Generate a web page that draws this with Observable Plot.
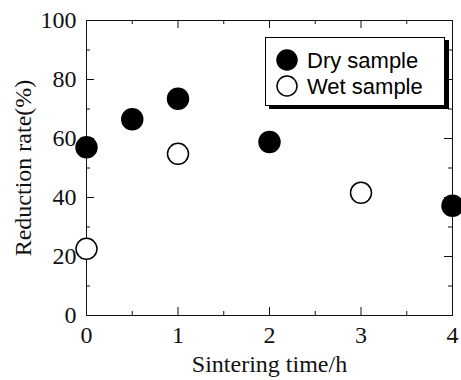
<!DOCTYPE html>
<html><head><meta charset="utf-8">
<script src="https://cdn.jsdelivr.net/npm/d3@7"></script>
<script src="https://cdn.jsdelivr.net/npm/@observablehq/plot@0.6"></script>
<style>
body{margin:0;background:#fff;}
#wrap{position:relative;width:461px;height:380px;}
#legend{position:absolute;left:265px;top:37px;width:180px;height:69px;box-sizing:border-box;border:1px solid #000;background:#fff;box-shadow:4px 3px 0 #000;}
#legend svg{position:absolute;left:-1px;top:-1px;}
</style></head><body><div id="wrap"></div>
<script>
const seriesNames = ["Dry sample", "Wet sample"];
const dryTime = [0, 0.5, 1, 2, 4];
const dryRate = [57.0, 66.5, 73.5, 58.8, 37.2];
const wetTime = [0, 1, 3];
const wetRate = [22.6, 54.8, 41.6];
const xMajor = [0, 1, 2, 3, 4];
const xMinor = [0.5, 1.5, 2.5, 3.5];
const yMajor = [0, 20, 40, 60, 80, 100];
const yMinor = [10, 30, 50, 70, 90];
const xTitle = "Sintering time/h";
const yTitle = "Reduction rate(%)";

const dry = dryTime.map((t, i) => ({t, v: dryRate[i]}));
const wet = wetTime.map((t, i) => ({t, v: wetRate[i]}));

const W = 461, H = 380, mL = 86, mR = 9, mT = 20, mB = 65;
const pw = W - mL - mR, ph = H - mT - mB;
const major = 8, minor = 4;
const serif = "'Liberation Serif', 'Times New Roman', serif";

const chart = Plot.plot({
  width: W, height: H,
  marginLeft: mL, marginRight: mR, marginTop: mT, marginBottom: mB,
  style: {fontFamily: serif, fontSize: "24px", color: "#111", background: "white", overflow: "visible"},
  x: {domain: [0, 4]},
  y: {domain: [0, 100]},
  marks: [
    Plot.tickY(yMajor, {y: d => d, insetRight: pw - major, stroke: "#111"}),
    Plot.tickY(yMajor, {y: d => d, insetLeft: pw - major, stroke: "#111"}),
    Plot.tickY(yMinor, {y: d => d, insetRight: pw - minor, stroke: "#111"}),
    Plot.tickY(yMinor, {y: d => d, insetLeft: pw - minor, stroke: "#111"}),
    Plot.tickX(xMajor, {x: d => d, insetTop: ph - major, stroke: "#111"}),
    Plot.tickX(xMajor, {x: d => d, insetBottom: ph - major, stroke: "#111"}),
    Plot.tickX(xMinor, {x: d => d, insetTop: ph - minor, stroke: "#111"}),
    Plot.tickX(xMinor, {x: d => d, insetBottom: ph - minor, stroke: "#111"}),
    Plot.frame({stroke: "#111", strokeWidth: 1}),
    Plot.axisX(xMajor, {tickSize: 0, tickPadding: 10, fontSize: 24, label: null, tickFormat: d3.format("d")}),
    Plot.axisY(yMajor, {tickSize: 0, tickPadding: 10, fontSize: 24, label: null, tickFormat: d3.format("d")}),
    Plot.text([xTitle], {frameAnchor: "bottom", dy: 49, lineAnchor: "middle", textAnchor: "middle", fontSize: 24, text: d => d}),
    Plot.text([yTitle], {frameAnchor: "left", dx: -63, rotate: -90, lineAnchor: "middle", textAnchor: "middle", fontSize: 24, text: d => d}),
    Plot.dot(wet, {x: "t", y: "v", r: 10.5, fill: "white", stroke: "black", strokeWidth: 1.5}),
    Plot.dot(dry, {x: "t", y: "v", r: 10.5, fill: "black", stroke: "black"})
  ]
});
const wrap = document.getElementById("wrap");
wrap.appendChild(chart);

// legend
const leg = document.createElement("div");
leg.id = "legend";
const ns = "http://www.w3.org/2000/svg";
const ls = document.createElementNS(ns, "svg");
ls.setAttribute("width", 180); ls.setAttribute("height", 69);
seriesNames.forEach((name, i) => {
  const c = document.createElementNS(ns, "circle");
  c.setAttribute("cx", 22); c.setAttribute("cy", 23 + 26 * i); c.setAttribute("r", 10);
  c.setAttribute("fill", i === 0 ? "black" : "white");
  c.setAttribute("stroke", "black"); c.setAttribute("stroke-width", 1.5);
  ls.appendChild(c);
  const t = document.createElementNS(ns, "text");
  t.setAttribute("x", 42); t.setAttribute("y", 31 + 26 * i);
  t.setAttribute("font-family", "'Liberation Sans', Arial, sans-serif");
  t.setAttribute("font-size", 22);
  t.setAttribute("fill", "#000");
  t.textContent = name;
  ls.appendChild(t);
});
leg.appendChild(ls);
wrap.appendChild(leg);
</script>
</body></html>
